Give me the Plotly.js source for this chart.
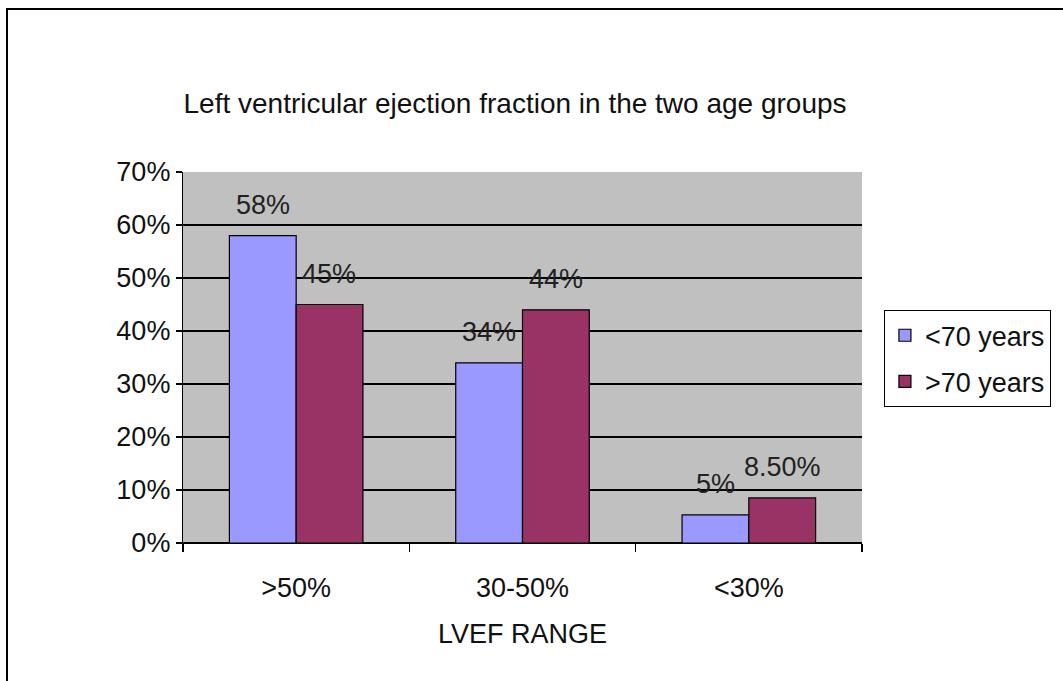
<!DOCTYPE html>
<html>
<head>
<meta charset="utf-8">
<script src="https://cdn.plot.ly/plotly-3.0.1.min.js"></script>
<style>
  html, body { margin: 0; padding: 0; background: #fff; }
  #wrap { position: relative; width: 1063px; height: 681px; overflow: hidden; }
  #chart { position: absolute; left: 0; top: 0; width: 1063px; height: 681px; }
  #frame { position: absolute; left: 6px; top: 8px; width: 1070px; height: 700px;
           border-top: 2px solid #000; border-left: 2px solid #000; pointer-events: none; }
</style>
</head>
<body>
<div id="wrap">
  <div id="chart"></div>
  <div id="frame"></div>
</div>
<script>
const categories = [">50%", "30-50%", "<30%"];
const seriesNames = ["<70 years", ">70 years"];
const under70 = [0.58, 0.34, 0.053];
const over70 = [0.45, 0.44, 0.085];
const under70Labels = ["58%", "34%", "5%"];
const over70Labels = ["45%", "44%", "8.50%"];
const colors = ["#9999FF", "#993366"];

const FONT = "Liberation Sans, Arial, sans-serif";
const FS = 27;

const traces = [under70, over70].map((vals, i) => ({
  type: "bar",
  name: seriesNames[i],
  x: categories,
  y: vals,
  legendgroup: "g" + i,
  marker: { color: colors[i], line: { color: "#000", width: 1.2 } },
  hoverinfo: "skip"
}));

const offsets = [-0.147, 0.147];
const annotations = [];
[under70Labels, over70Labels].forEach((labels, s) => {
  const vals = s === 0 ? under70 : over70;
  labels.forEach((t, i) => {
    annotations.push({
      x: i + offsets[s], y: vals[i], xref: "x", yref: "y",
      text: t, showarrow: false, yanchor: "bottom", yshift: 14,
      font: { family: FONT, size: FS, color: "#222" }
    });
  });
});

const layout = {
  width: 1063, height: 681,
  margin: { l: 183, r: 201, t: 172, b: 138, pad: 0 },
  paper_bgcolor: "#ffffff",
  plot_bgcolor: "#C0C0C0",
  font: { family: FONT, color: "#111", size: FS },
  title: {
    text: "Left ventricular ejection fraction in the two age groups",
    font: { family: FONT, size: 28, color: "#111" },
    x: 0.4845, xanchor: "center", xref: "container",
    y: 0.849, yanchor: "middle", yref: "container"
  },
  barmode: "group",
  bargap: 0.41,
  bargroupgap: 0,
  xaxis: {
    type: "category",
    tickson: "boundaries",
    ticks: "outside", ticklen: 8, tickcolor: "#000", tickwidth: 1.2,
    showline: true, linecolor: "#000", linewidth: 1.2,
    showgrid: false,
    ticklabelstandoff: 20,
    tickfont: { family: FONT, size: FS, color: "#111" },
    title: { text: "LVEF RANGE", standoff: 22, font: { family: FONT, size: FS, color: "#111" } }
  },
  yaxis: {
    range: [0, 0.7],
    dtick: 0.1,
    tickformat: ".0%",
    ticks: "outside", ticklen: 6, tickcolor: "#000", tickwidth: 1.2,
    showline: true, linecolor: "#000", linewidth: 1.2,
    showgrid: true, gridcolor: "#000", gridwidth: 1.2,
    zeroline: true, zerolinecolor: "#000", zerolinewidth: 1.2,
    tickfont: { family: FONT, size: FS, color: "#111" }
  },
  legend: {
    x: 1.032, xanchor: "left", y: 0.628, yanchor: "top",
    bgcolor: "#ffffff", bordercolor: "#000", borderwidth: 1.2,
    font: { family: FONT, size: FS, color: "#111" },
    traceorder: "grouped", tracegroupgap: 8
  },
  annotations: annotations,
  showlegend: true
};

Plotly.newPlot("chart", traces, layout, { displayModeBar: false, staticPlot: true });
</script>
</body>
</html>
